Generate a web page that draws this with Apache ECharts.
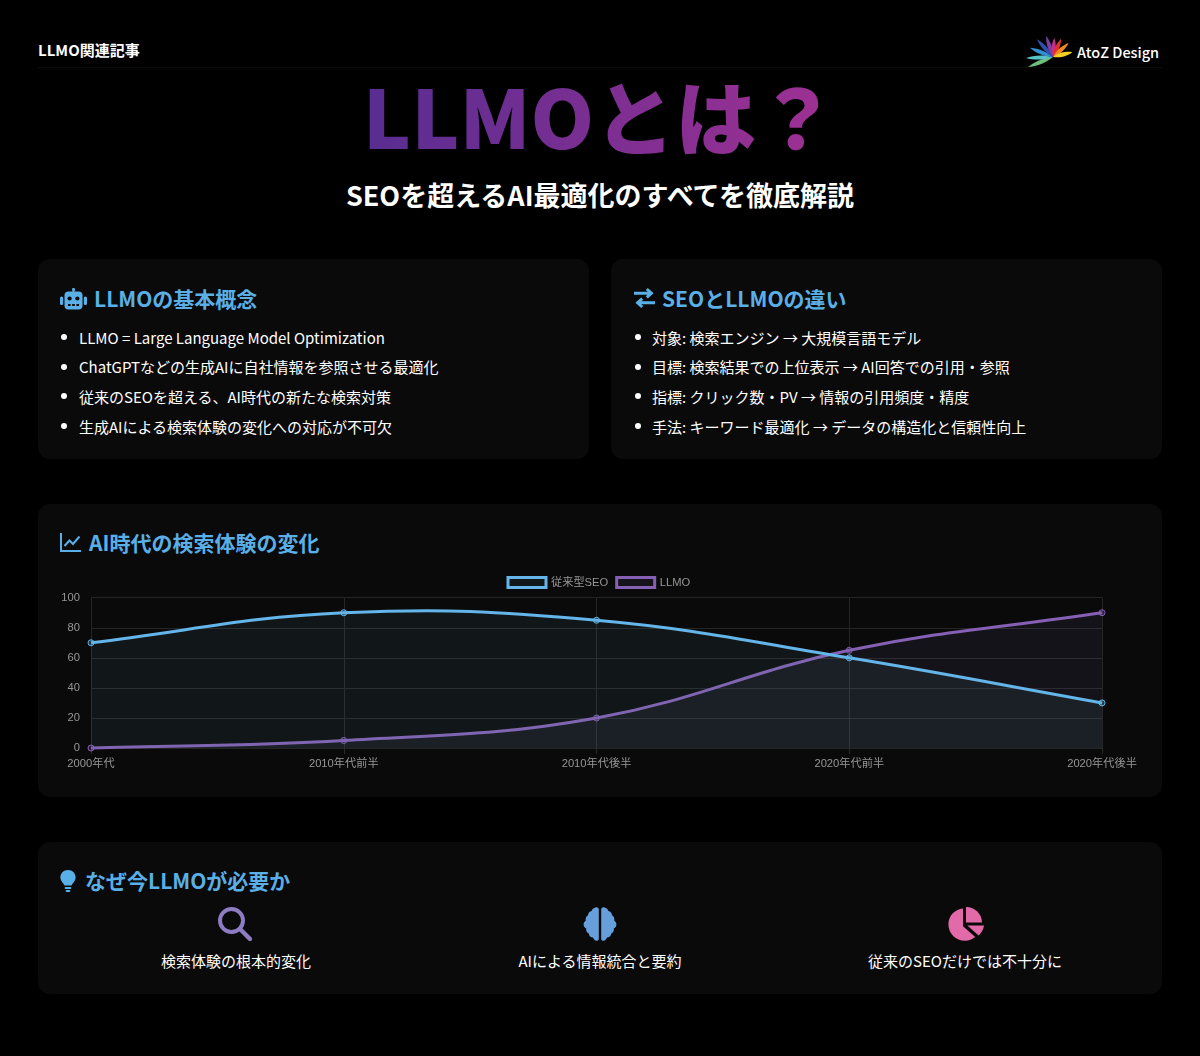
<!DOCTYPE html>
<html lang="ja">
<head>
<meta charset="utf-8">
<title>LLMOとは？</title>
<script src="https://cdn.jsdelivr.net/npm/echarts@6/dist/echarts.min.js"></script>
<style>
html, body { margin: 0; padding: 0; background: #000; }
body { position: relative; width: 1200px; height: 1056px; overflow: hidden; color: #fff; font-family: "Noto Sans CJK JP", sans-serif; }
.abs { position: absolute; white-space: nowrap; }
.card { position: absolute; background: #0a0a0a; border-radius: 12px; }
.head { position: absolute; white-space: nowrap; color: #5aafe6; font-size: 21px; font-weight: 700; line-height: 30px; }
.item { position: absolute; white-space: nowrap; font-size: 15px; line-height: 20px; color: #fff; }
.dot { position: absolute; width: 6px; height: 6px; border-radius: 50%; background: #fff; }
.cap { position: absolute; white-space: nowrap; font-size: 15px; line-height: 20px; transform: translateX(-50%); }
#title { left: 0; width: 1200px; top: 64px; text-align: center; font-size: 81px; line-height: 100px; font-weight: 900; }
#title span { background: linear-gradient(90deg, #582d91, #a03093); -webkit-background-clip: text; background-clip: text; color: transparent; }
#sub { left: 0; width: 1200px; top: 175px; text-align: center; font-size: 27px; line-height: 40px; font-weight: 700; }
#rule { position: absolute; left: 38px; top: 67px; width: 1124px; height: 1px; background: #0c0c0c; }
#main_chart { position: absolute; left: 38px; top: 570px; width: 1124px; height: 210px; }
svg { position: absolute; overflow: visible; }
</style>
</head>
<body>
<div id="rule"></div>
<div class="abs" style="left:38px;top:40px;font-size:15px;line-height:20px;font-weight:700;">LLMO関連記事</div>

<svg style="left:1026px;top:35px;" width="48" height="36" id="logo"></svg>
<div class="abs" style="left:1077px;top:41px;font-size:14.5px;line-height:22px;font-weight:500;">AtoZ Design</div>

<div id="title" class="abs"><span>LLMOとは？</span></div>
<div id="sub" class="abs">SEOを超えるAI最適化のすべてを徹底解説</div>

<div class="card" style="left:38px;top:259px;width:551px;height:200px;"></div>
<div class="card" style="left:611px;top:259px;width:551px;height:200px;"></div>
<div class="card" style="left:38px;top:504px;width:1124px;height:293px;"></div>
<div class="card" style="left:38px;top:842px;width:1124px;height:152px;"></div>

<!-- robot -->
<svg style="left:60px;top:288px;" width="27" height="22" viewBox="0 0 27 22">
	<rect x="12.6" y="0" width="1.8" height="4" fill="#5aafe6"/>
	<circle cx="13.5" cy="1.5" r="1.5" fill="#5aafe6"/>
	<rect x="4.5" y="3.5" width="18" height="18" rx="4" fill="#5aafe6"/>
	<rect x="0" y="8.5" width="3.2" height="8.5" rx="1.5" fill="#5aafe6"/>
	<rect x="23.8" y="8.5" width="3.2" height="8.5" rx="1.5" fill="#5aafe6"/>
	<circle cx="9.6" cy="10.5" r="2.1" fill="#0a0a0a"/>
	<circle cx="17.4" cy="10.5" r="2.1" fill="#0a0a0a"/>
	<rect x="8" y="16" width="2.6" height="2" fill="#0a0a0a"/>
	<rect x="12.2" y="16" width="2.6" height="2" fill="#0a0a0a"/>
	<rect x="16.4" y="16" width="2.6" height="2" fill="#0a0a0a"/>
</svg>
<div class="head" style="left:94px;top:283px;">LLMOの基本概念</div>

<!-- exchange -->
<svg style="left:634px;top:288px;" width="21" height="20" viewBox="0 0 21 20">
	<path d="M0 5.2H16M12.8 1L17.4 5.2L12.8 9.4" fill="none" stroke="#5aafe6" stroke-width="3"/>
	<path d="M21 14.8H5M8.2 10.6L3.6 14.8L8.2 19" fill="none" stroke="#5aafe6" stroke-width="3"/>
</svg>
<div class="head" style="left:662px;top:283px;">SEOとLLMOの違い</div>

<div id="list_left"></div>
<div id="list_right"></div>

<!-- chart line -->
<svg style="left:60px;top:533px;" width="21" height="19" viewBox="0 0 21 19">
	<path d="M1 0V18H21" fill="none" stroke="#5aafe6" stroke-width="2"/>
	<path d="M4.5 13L9.5 7.5L13 11L19.5 3.5" fill="none" stroke="#5aafe6" stroke-width="2"/>
</svg>
<div class="head" style="left:89px;top:527px;">AI時代の検索体験の変化</div>

<div id="main_chart"></div>

<!-- lightbulb -->
<svg style="left:60px;top:870px;" width="16" height="22" viewBox="0 0 16 22">
	<path d="M8 0C3.6 0 0.4 3.2 0.4 7.4C0.4 11 3.2 12.4 4.4 15.6H11.6C12.8 12.4 15.6 11 15.6 7.4C15.6 3.2 12.4 0 8 0Z" fill="#5aafe6"/>
	<rect x="4.6" y="17" width="6.8" height="2" rx="1" fill="#5aafe6"/>
	<rect x="5.6" y="20" width="4.8" height="2" rx="1" fill="#5aafe6"/>
</svg>
<div class="head" style="left:85px;top:865px;">なぜ今LLMOが必要か</div>

<!-- search -->
<svg style="left:218px;top:907px;" width="34" height="34" viewBox="0 0 34 34">
	<circle cx="13.5" cy="13.5" r="11.5" fill="none" stroke="#8e7cc3" stroke-width="4"/>
	<path d="M22 22L32 32" stroke="#8e7cc3" stroke-width="4.4" stroke-linecap="round"/>
</svg>
<!-- brain -->
<svg style="left:583px;top:907px;" width="34" height="34" viewBox="0 0 34 34">
	<path d="M15.8 2.5C15.8 1 14 0 12.5 0.5C10.5 0.8 9 2.2 8.6 4C6.5 4.4 5 6 5 8.2C3 9.5 2.2 11.5 2.8 13.6C0.8 15 0 17 1 19.4C1.6 20.4 2.4 21 3.2 21.4C2.8 23.6 3.8 25.5 5.8 26.4C6 28.8 7.8 30.4 10 30.4C10.8 32.6 12.6 34 14.2 33.8C15.2 33.6 15.8 32.8 15.8 31.8Z" fill="#669fdc"/>
	<path d="M18.2 2.5C18.2 1 20 0 21.5 0.5C23.5 0.8 25 2.2 25.4 4C27.5 4.4 29 6 29 8.2C31 9.5 31.8 11.5 31.2 13.6C33.2 15 34 17 33 19.4C32.4 20.4 31.6 21 30.8 21.4C31.2 23.6 30.2 25.5 28.2 26.4C28 28.8 26.2 30.4 24 30.4C23.2 32.6 21.4 34 19.8 33.8C18.8 33.6 18.2 32.8 18.2 31.8Z" fill="#669fdc"/>
</svg>
<!-- pie -->
<svg style="left:948px;top:907px;" width="36" height="34" viewBox="0 0 36 34">
	<path d="M15 1.5V19.2L27.2 30C24.4 32.4 20.9 33.8 17 33.8C7.8 33.8 0.4 26.4 0.4 17.2C0.4 9 6.6 2.4 15 1.5Z" fill="#e26aa9"/>
	<path d="M18 0C27 0 34 7 34 15.6H18Z" fill="#e26aa9"/>
	<path d="M19.4 18.6H36C35.4 22.6 33.6 26 30.6 28.4Z" fill="#e26aa9"/>
</svg>

<div id="caps"></div>

<script>
var categories = ["2000年代", "2010年代前半", "2010年代後半", "2020年代前半", "2020年代後半"];
var seoValues = [70, 90, 85, 60, 30];
var llmoValues = [0, 5, 20, 65, 90];
var seriesNames = ["従来型SEO", "LLMO"];

var conceptItems = [
	"LLMO = Large Language Model Optimization",
	"ChatGPTなどの生成AIに自社情報を参照させる最適化",
	"従来のSEOを超える、AI時代の新たな検索対策",
	"生成AIによる検索体験の変化への対応が不可欠"
];
var diffItems = [
	"対象: 検索エンジン → 大規模言語モデル",
	"目標: 検索結果での上位表示 → AI回答での引用・参照",
	"指標: クリック数・PV → 情報の引用頻度・精度",
	"手法: キーワード最適化 → データの構造化と信頼性向上"
];
var reasonCaps = ["検索体験の根本的変化", "AIによる情報統合と要約", "従来のSEOだけでは不十分に"];

var blue = "#64b5e9";
var purple = "#8560b5";

makeLists();
makeCaps();
makeLogo();
makeEchart();

function makeLists() {
	var rowTops = [328, 357, 387, 417];
	var dotTops = [334, 364, 393, 423];
	var html = "";
	for(var i = 0; i < 4; i++) {
		html += '<div class="dot" style="left:61px;top:' + dotTops[i] + 'px;"></div>';
		html += '<div class="item" style="left:79px;top:' + rowTops[i] + 'px;">' + conceptItems[i] + '</div>';
	}
	document.getElementById("list_left").innerHTML = html;

	html = "";
	for(var j = 0; j < 4; j++) {
		html += '<div class="dot" style="left:635px;top:' + dotTops[j] + 'px;"></div>';
		html += '<div class="item" style="left:652px;top:' + rowTops[j] + 'px;">' + diffItems[j] + '</div>';
	}
	document.getElementById("list_right").innerHTML = html;
}

function makeCaps() {
	var centers = [236, 600, 965];
	var html = "";
	for(var i = 0; i < 3; i++) {
		html += '<div class="cap" style="left:' + centers[i] + 'px;top:951px;">' + reasonCaps[i] + '</div>';
	}
	document.getElementById("caps").innerHTML = html;
}

function makeLogo() {
	// petals fan out from the lower middle of the mark
	var petals = [
		["#6cc07a", -112, 27], ["#58c4c8", -92, 27], ["#2f8fd0", -68, 25], ["#2f4fa8", -42, 24],
		["#7a3fa8", -18, 22], ["#c0308f", 4, 19], ["#e03030", 24, 20], ["#f08a20", 48, 21], ["#f5d020", 76, 20]
	];
	var svg = "";
	for(var i = 0; i < petals.length; i++) {
		var len = petals[i][2];
		svg += '<path d="M0 0C-3.4 ' + (-len * 0.4) + ' -2 ' + (-len * 0.75) + ' 0 ' + (-len) + 'C2 ' + (-len * 0.75) + ' 3.4 ' + (-len * 0.4) + ' 0 0Z" fill="' + petals[i][0] + '" transform="translate(27 22) rotate(' + petals[i][1] + ')"/>';
	}
	document.getElementById("logo").innerHTML = svg;
}

// curve through the points: the built-in smooth line clamps at the peak, this one overshoots a little
function curvePath(pts, tension) {
	var d = "M" + pts[0][0] + " " + pts[0][1];
	var ctrl = [];
	for(var i = 0; i < pts.length; i++) {
		var a = pts[Math.max(i - 1, 0)];
		var b = pts[i];
		var c = pts[Math.min(i + 1, pts.length - 1)];
		var d1 = Math.hypot(b[0] - a[0], b[1] - a[1]);
		var d2 = Math.hypot(c[0] - b[0], c[1] - b[1]);
		var fa = tension * d1 / (d1 + d2);
		var fb = tension * d2 / (d1 + d2);
		ctrl.push({
			px: b[0] - fa * (c[0] - a[0]),
			py: b[1] - fa * (c[1] - a[1]),
			nx: b[0] + fb * (c[0] - a[0]),
			ny: b[1] + fb * (c[1] - a[1])
		});
	}
	for(var k = 1; k < pts.length; k++) {
		d += "C" + ctrl[k - 1].nx + " " + ctrl[k - 1].ny + " " + ctrl[k].px + " " + ctrl[k].py + " " + pts[k][0] + " " + pts[k][1];
	}
	return d;
}

function makeRenderItem(values, color, fillColor, dotColor) {
	return function(params, api) {
		var children = [];
		if(params.dataIndex == 0) {
			var pts = [];
			for(var i = 0; i < values.length; i++) {
				pts.push(api.coord([i, values[i]]));
			}
			var baseY = api.coord([0, 0])[1];
			var line = curvePath(pts, 0.4);
			children.push({
				type: "path",
				shape: { pathData: line + "L" + pts[pts.length - 1][0] + " " + baseY + "L" + pts[0][0] + " " + baseY + "Z" },
				style: { fill: fillColor, stroke: null }
			});
			children.push({
				type: "path",
				shape: { pathData: line },
				style: { fill: null, stroke: color, lineWidth: 3 }
			});
		}
		var p = api.coord([api.value(0), api.value(1)]);
		children.push({
			type: "circle",
			shape: { cx: p[0], cy: p[1], r: 3 },
			style: { fill: dotColor, stroke: color, lineWidth: 1 }
		});
		return { type: "group", children: children };
	};
}

function pairs(values) {
	var arr = [];
	for(var i = 0; i < values.length; i++) {
		arr.push([i, values[i]]);
	}
	return arr;
}

function makeEchart() {
	var chart_do = document.getElementById("main_chart");
	var lineChart = echarts.init(chart_do);
	var labelFont = '"Liberation Sans", "Noto Sans CJK JP", sans-serif';

	var option = {
		animation: false,
		backgroundColor: "transparent",
		textStyle: { fontFamily: labelFont },
		legend: {
			top: 1,
			left: 463.5,
			itemWidth: 38,
			itemHeight: 10,
			itemGap: 7,
			icon: "rect",
			textStyle: { color: "#969696", fontSize: 11.2, fontFamily: labelFont, padding: [0, 0, 2, 0] },
			data: [{
				name: seriesNames[0],
				itemStyle: { color: "#121819", borderColor: blue, borderWidth: 3 }
			}, {
				name: seriesNames[1],
				itemStyle: { color: "#15141a", borderColor: purple, borderWidth: 3 }
			}]
		},
		grid: { left: 53, right: 60, top: 27.7, height: 150.3, containLabel: false },
		xAxis: {
			type: "category",
			boundaryGap: false,
			data: categories,
			axisLine: { show: false },
			axisTick: { show: true, length: 6, lineStyle: { color: "#2a2a2a" } },
			axisLabel: { color: "#969696", fontSize: 11.2, fontFamily: labelFont, margin: 10, hideOverlap: false, interval: 0, showMinLabel: true, showMaxLabel: true, alignMinLabel: "center", alignMaxLabel: "center" },
			splitLine: { show: true, lineStyle: { color: "#252525", width: 1 } }
		},
		yAxis: {
			type: "value",
			min: 0,
			max: 100,
			interval: 20,
			axisLine: { show: false },
			axisTick: { show: false },
			axisLabel: { color: "#969696", fontSize: 11.2, fontFamily: labelFont, margin: 11, padding: [0, 0, 2, 0] },
			splitLine: { show: true, lineStyle: { color: "#252525", width: 1 } }
		},
		series: [{
			name: seriesNames[1],
			type: "custom",
			data: pairs(llmoValues),
			encode: { x: 0, y: 1 },
			clip: false,
			z: 2,
			itemStyle: { color: purple },
			renderItem: makeRenderItem(llmoValues, purple, "rgba(120,110,170,0.1)", "rgba(133,96,181,0.25)")
		}, {
			name: seriesNames[0],
			type: "custom",
			data: pairs(seoValues),
			encode: { x: 0, y: 1 },
			clip: false,
			z: 3,
			itemStyle: { color: blue },
			renderItem: makeRenderItem(seoValues, blue, "rgba(90,150,160,0.1)", "rgba(100,181,233,0.25)")
		}]
	};

	lineChart.setOption(option);
}
</script>
</body>
</html>
